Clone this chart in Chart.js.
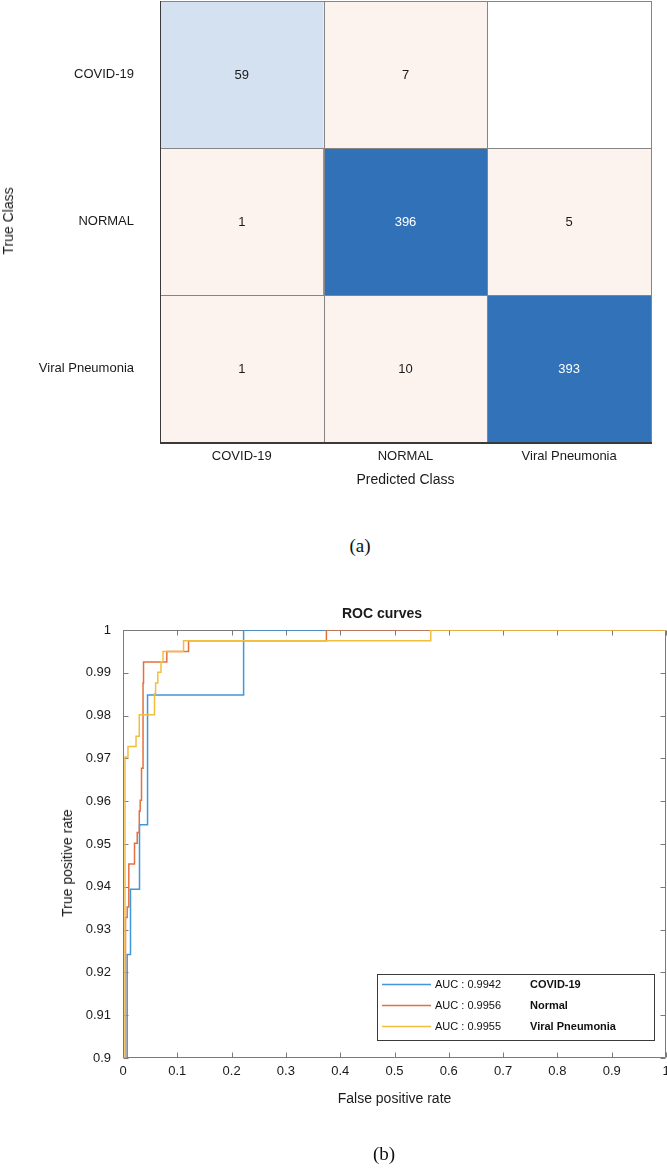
<!DOCTYPE html>
<html>
<head>
<meta charset="utf-8">
<script src="https://cdn.jsdelivr.net/npm/chart.js@4.4.1/dist/chart.umd.min.js"></script>
<style>
html,body{margin:0;padding:0;background:#fff;}
body{width:667px;height:1170px;position:relative;overflow:hidden;font-family:"Liberation Sans",Arial,sans-serif;}
canvas{position:absolute;left:0;}
#cm{top:0;}
#roc{top:600px;}
.lbl{position:absolute;white-space:nowrap;color:#1a1a1a;line-height:1;transform:translate(-50%,-50%);}
.rot{transform:translate(-50%,-50%) rotate(-90deg);}
.cap{font-family:"Liberation Serif","Times New Roman",serif;font-size:19px;color:#111;}
</style>
</head>
<body>
<canvas id="cm" width="667" height="500"></canvas>
<canvas id="roc" width="667" height="570"></canvas>
<div class="lbl rot" style="left:8px;top:221px;font-size:14px;">True Class</div>
<div class="lbl cap" style="left:360px;top:545px;">(a)</div>
<div class="lbl" style="left:382px;top:613px;font-size:14px;font-weight:bold;">ROC curves</div>
<div class="lbl rot" style="left:67px;top:863px;font-size:14px;">True positive rate</div>
<div class="lbl cap" style="left:384px;top:1153px;">(b)</div>
<script>
// ---------- data ----------
const predictedClasses = ['COVID-19', 'NORMAL', 'Viral Pneumonia'];
const trueClasses = ['COVID-19', 'NORMAL', 'Viral Pneumonia'];
const countsCovid = [59, 7, 0];
const countsNormal = [1, 396, 5];
const countsViral = [1, 10, 393];

const rocNames = ['COVID-19', 'Normal', 'Viral Pneumonia'];
const aucValues = ['0.9942', '0.9956', '0.9955'];
const covidFpr = [0, 0.0077, 0.0138, 0.0304, 0.0452, 0.2221, 1];
const covidTpr = [0, 0.9242, 0.9394, 0.9545, 0.9848, 1, 1];
const normalFpr = [0, 0.0046, 0.0077, 0.0107, 0.0212, 0.0262, 0.0300, 0.0317, 0.0341, 0.0369, 0.0378, 0.0807, 0.1207, 0.3746, 1];
const normalTpr = [0, 0.9328, 0.9353, 0.9453, 0.9502, 0.9527, 0.9577, 0.9602, 0.9677, 0.9876, 0.9925, 0.9950, 0.9975, 1, 1];
const viralFpr = [0, 0.0037, 0.0092, 0.0240, 0.0300, 0.0580, 0.0600, 0.0641, 0.0700, 0.0737, 0.1115, 0.5668, 1];
const viralTpr = [0, 0.9703, 0.9728, 0.9752, 0.9802, 0.9851, 0.9876, 0.9901, 0.9926, 0.9950, 0.9975, 1, 1];

const xTickValues = [0, 0.1, 0.2, 0.3, 0.4, 0.5, 0.6, 0.7, 0.8, 0.9, 1];
const xTickLabels = ['0', '0.1', '0.2', '0.3', '0.4', '0.5', '0.6', '0.7', '0.8', '0.9', '1'];
const yTickValues = [0.9, 0.91, 0.92, 0.93, 0.94, 0.95, 0.96, 0.97, 0.98, 0.99, 1];
const yTickLabels = ['0.9', '0.91', '0.92', '0.93', '0.94', '0.95', '0.96', '0.97', '0.98', '0.99', '1'];

// ---------- styles ----------
const FONT = '"Liberation Sans", Arial, sans-serif';
const TXT = '#1a1a1a';
const countRows = [countsCovid, countsNormal, countsViral];
const maxCount = Math.max(...countRows.flat());
const diagRGB = [49, 113, 184];
const offRGB = [217, 83, 25];
function mix(c, t) {
  return 'rgb(' + c.map(v => Math.round(255 + (v - 255) * t)).join(',') + ')';
}
function cellT(v, diag) {
  if (v === 0) return 0;
  return diag ? Math.pow(v / maxCount, 0.82) : 0.068 + 0.3 * v / maxCount;
}
function cellColor(v, diag) { return mix(diag ? diagRGB : offRGB, cellT(v, diag)); }
function noPad(s) { s.paddingTop = 0; s.paddingBottom = 0; s.paddingLeft = 0; s.paddingRight = 0; }

// ---------- confusion matrix ----------
const cmPlugin = {
  id: 'cmCells',
  afterDatasetsDraw(chart) {
    const ctx = chart.ctx;
    ctx.save();
    chart.data.datasets.forEach((ds, r) => {
      const meta = chart.getDatasetMeta(r);
      meta.data.forEach((bar, c) => {
        const p = bar.getProps(['x', 'y', 'base', 'width'], true);
        const l = Math.round(p.x - p.width / 2), rr = Math.round(p.x + p.width / 2);
        const t = Math.round(Math.min(p.y, p.base)), b = Math.round(Math.max(p.y, p.base));
        ctx.strokeStyle = '#858585';
        ctx.lineWidth = 1;
        ctx.strokeRect(l + 0.5, t + 0.5, rr - l, b - t);
        const v = countRows[r][c];
        if (v !== 0) {
          ctx.fillStyle = cellT(v, r === c) > 0.5 ? '#ffffff' : TXT;
          ctx.font = '13px ' + FONT;
          ctx.textAlign = 'center';
          ctx.textBaseline = 'middle';
          ctx.fillText(String(v), p.x, (t + b) / 2 + 1);
        }
      });
    });
    const a = chart.chartArea;
    ctx.strokeStyle = '#3a3a3a';
    ctx.lineWidth = 1;
    ctx.beginPath();
    ctx.moveTo(Math.round(a.left) + 0.5, Math.round(a.top));
    ctx.lineTo(Math.round(a.left) + 0.5, Math.round(a.bottom));
    ctx.stroke();
    ctx.lineWidth = 2;
    ctx.beginPath();
    ctx.moveTo(Math.round(a.left), Math.round(a.bottom) + 1);
    ctx.lineTo(Math.round(a.right) + 1, Math.round(a.bottom) + 1);
    ctx.stroke();
    ctx.restore();
  }
};

new Chart(document.getElementById('cm'), {
  type: 'bar',
  data: {
    labels: predictedClasses,
    datasets: trueClasses.map((tc, r) => ({
      label: tc,
      data: predictedClasses.map(() => [r, r + 1]),
      backgroundColor: countRows[r].map((v, c) => cellColor(v, r === c)),
      borderWidth: 0,
      barPercentage: 1,
      categoryPercentage: 1,
      grouped: false
    }))
  },
  options: {
    responsive: false,
    animation: false,
    events: [],
    layout: { padding: { left: 0, right: 16, top: 1, bottom: 0 } },
    plugins: { legend: { display: false }, tooltip: { enabled: false } },
    scales: {
      x: {
        type: 'category',
        grid: { display: false, drawTicks: false },
        border: { display: false },
        ticks: { color: TXT, font: { family: FONT, size: 13 }, padding: 7, maxRotation: 0, autoSkip: false },
        title: { display: true, text: 'Predicted Class', color: TXT, font: { family: FONT, size: 14 }, padding: { top: 0, bottom: 11.6 } },
        afterFit: s => { s.height = 58; noPad(s); }
      },
      y: {
        type: 'linear',
        min: 0,
        max: 3,
        reverse: true,
        afterBuildTicks: s => { s.ticks = trueClasses.map((_, i) => ({ value: i + 0.5 })); },
        grid: { display: false, drawTicks: false },
        border: { display: false },
        ticks: { color: TXT, font: { family: FONT, size: 13 }, padding: 26, callback: (v) => trueClasses[Math.floor(v)] },
        afterFit: s => { s.width = 160; noPad(s); }
      }
    }
  },
  plugins: [cmPlugin]
});

// ---------- ROC ----------
const lineColors = ['#3f97dc', '#e4703f', '#f2be3e'];
const rocFrame = {
  id: 'rocFrame',
  beforeDatasetsDraw(chart) {
    const { ctx, chartArea: a, scales: { x, y } } = chart;
    ctx.save();
    ctx.strokeStyle = '#7a7a7a';
    ctx.lineWidth = 1;
    const L = Math.round(a.left) + 0.5, R = Math.round(a.right) - 0.5;
    const T = Math.round(a.top) + 0.5, B = Math.round(a.bottom) - 0.5;
    ctx.beginPath();
    ctx.rect(L, T, R - L, B - T);
    x.ticks.forEach(t => {
      const px = Math.round(x.getPixelForValue(t.value)) + 0.5;
      ctx.moveTo(px, B); ctx.lineTo(px, B - 5);
      ctx.moveTo(px, T); ctx.lineTo(px, T + 5);
    });
    y.ticks.forEach(t => {
      const py = Math.round(y.getPixelForValue(t.value)) + 0.5;
      ctx.moveTo(L, py); ctx.lineTo(L + 5, py);
      ctx.moveTo(R, py); ctx.lineTo(R - 5, py);
    });
    ctx.stroke();
    ctx.restore();
  }
};
const rocLegend = {
  id: 'rocLegend',
  afterDatasetsDraw(chart) {
    const { ctx, chartArea: a } = chart;
    const boxR = Math.round(a.right) - 12, boxB = Math.round(a.bottom) - 18;
    const boxW = 277, boxH = 66;
    const boxL = boxR - boxW, boxT = boxB - boxH;
    ctx.save();
    ctx.fillStyle = '#ffffff';
    ctx.fillRect(boxL, boxT, boxW, boxH);
    ctx.strokeStyle = '#3a3a3a';
    ctx.lineWidth = 1;
    ctx.strokeRect(boxL + 0.5, boxT + 0.5, boxW, boxH);
    rocNames.forEach((name, i) => {
      const yy = boxT + 10 + i * 21;
      ctx.strokeStyle = lineColors[i];
      ctx.lineWidth = 1.5;
      ctx.beginPath();
      ctx.moveTo(boxL + 5, yy + 0.5);
      ctx.lineTo(boxL + 54, yy + 0.5);
      ctx.stroke();
      ctx.fillStyle = '#111';
      ctx.textBaseline = 'middle';
      ctx.textAlign = 'left';
      ctx.font = '11px ' + FONT;
      ctx.fillText('AUC : ' + aucValues[i], boxL + 58, yy + 1);
      ctx.font = 'bold 11px ' + FONT;
      ctx.fillText(name, boxL + 153, yy + 1);
    });
    ctx.restore();
  }
};

function pts(xs, ys) { return xs.map((x, i) => ({ x: x, y: ys[i] })); }

new Chart(document.getElementById('roc'), {
  type: 'line',
  data: {
    datasets: [
      { label: rocNames[0], data: pts(covidFpr, covidTpr), borderColor: lineColors[0], borderWidth: 1.5, pointRadius: 0, stepped: 'before', fill: false, order: 3 },
      { label: rocNames[1], data: pts(normalFpr, normalTpr), borderColor: lineColors[1], borderWidth: 1.5, pointRadius: 0, stepped: 'before', fill: false, order: 2 },
      { label: rocNames[2], data: pts(viralFpr, viralTpr), borderColor: lineColors[2], borderWidth: 1.5, pointRadius: 0, stepped: 'before', fill: false, order: 1 }
    ]
  },
  options: {
    responsive: false,
    animation: false,
    events: [],
    layout: { padding: { left: 0, right: 1, top: 30, bottom: 0 } },
    plugins: { legend: { display: false }, tooltip: { enabled: false } },
    scales: {
      x: {
        type: 'linear', min: 0, max: 1,
        afterBuildTicks: s => { s.ticks = xTickValues.map(v => ({ value: v })); },
        grid: { display: false, drawTicks: false },
        border: { display: false },
        ticks: { color: TXT, font: { family: FONT, size: 13 }, padding: 6, maxRotation: 0, autoSkip: false, callback: (v, i) => xTickLabels[i] },
        title: { display: true, text: 'False positive rate', color: TXT, font: { family: FONT, size: 14 }, padding: { top: 0, bottom: 62.6 } },
        afterFit: s => { s.height = 112; noPad(s); }
      },
      y: {
        type: 'linear', min: 0.9, max: 1,
        afterBuildTicks: s => { s.ticks = yTickValues.map(v => ({ value: v })); },
        grid: { display: false, drawTicks: false },
        border: { display: false },
        ticks: { color: TXT, font: { family: FONT, size: 13 }, padding: 12, autoSkip: false, callback: (v, i) => yTickLabels[i] },
        afterFit: s => { s.width = 123; noPad(s); }
      }
    }
  },
  plugins: [rocFrame, rocLegend]
});
</script>
</body>
</html>
